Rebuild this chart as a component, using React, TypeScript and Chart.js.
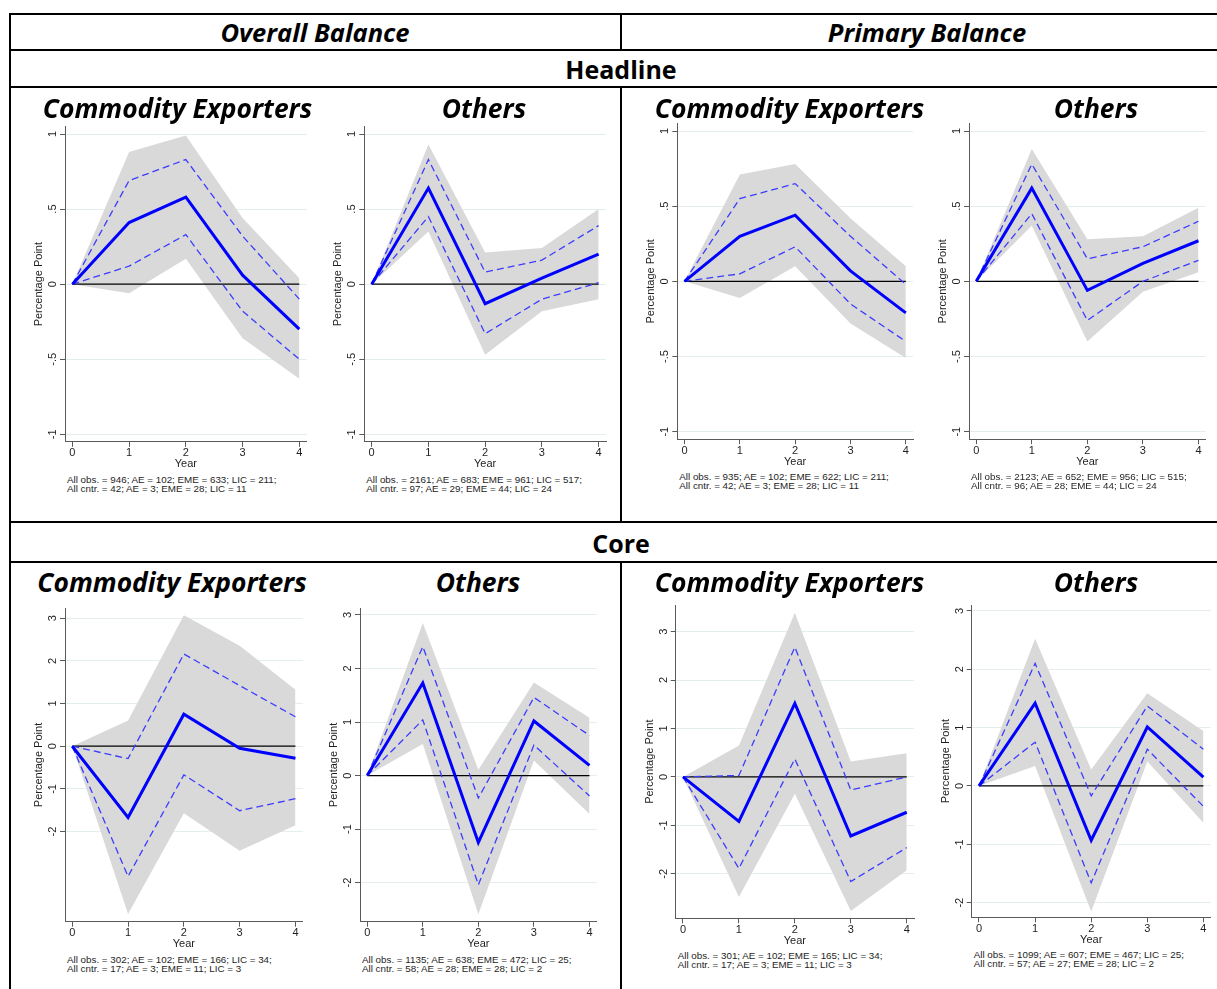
import React, { useEffect, useRef } from "react";
import { Chart, registerables } from "chart.js";

Chart.register(...registerables);

// ---- horizon and axis ticks ----
const years = [0, 1, 2, 3, 4];
const yTicksHeadline = [-1, -0.5, 0, 0.5, 1];
const yTicksCore = [-2, -1, 0, 1, 2, 3];

// ---- Headline, overall balance, commodity exporters ----
const hoCxIrf = [0, 0.41, 0.58, 0.06, -0.3];
const hoCxDashHi = [0, 0.69, 0.83, 0.32, -0.1];
const hoCxDashLo = [0, 0.12, 0.33, -0.18, -0.5];
const hoCxBandHi = [0, 0.88, 0.99, 0.44, 0.04];
const hoCxBandLo = [0, -0.06, 0.17, -0.36, -0.63];
const hoCxNotes = ["All obs. = 946; AE = 102; EME = 633; LIC = 211;", "All cntr. = 42; AE = 3; EME = 28; LIC = 11"];

// ---- Headline, overall balance, others ----
const hoOtIrf = [0, 0.64, -0.13, 0.04, 0.2];
const hoOtDashHi = [0, 0.83, 0.08, 0.16, 0.39];
const hoOtDashLo = [0, 0.45, -0.33, -0.1, 0.01];
const hoOtBandHi = [0, 0.93, 0.21, 0.24, 0.5];
const hoOtBandLo = [0, 0.35, -0.47, -0.18, -0.1];
const hoOtNotes = ["All obs. = 2161; AE = 683; EME = 961; LIC = 517;", "All cntr. = 97; AE = 29; EME = 44; LIC = 24"];

// ---- Headline, primary balance, commodity exporters ----
const hpCxIrf = [0, 0.3, 0.44, 0.07, -0.21];
const hpCxDashHi = [0, 0.55, 0.65, 0.3, -0.02];
const hpCxDashLo = [0, 0.05, 0.23, -0.15, -0.4];
const hpCxBandHi = [0, 0.71, 0.78, 0.42, 0.1];
const hpCxBandLo = [0, -0.11, 0.1, -0.28, -0.51];
const hpCxNotes = ["All obs. = 935; AE = 102; EME = 622; LIC = 211;", "All cntr. = 42; AE = 3; EME = 28; LIC = 11"];

// ---- Headline, primary balance, others ----
const hpOtIrf = [0, 0.62, -0.06, 0.12, 0.27];
const hpOtDashHi = [0, 0.78, 0.15, 0.23, 0.4];
const hpOtDashLo = [0, 0.45, -0.26, 0.0, 0.14];
const hpOtBandHi = [0, 0.88, 0.28, 0.3, 0.49];
const hpOtBandLo = [0, 0.37, -0.4, -0.07, 0.06];
const hpOtNotes = ["All obs. = 2123; AE = 652; EME = 956; LIC = 515;", "All cntr. = 96; AE = 28; EME = 44; LIC = 24"];

// ---- Core, overall balance, commodity exporters ----
const coCxIrf = [0, -1.67, 0.75, -0.05, -0.28];
const coCxDashHi = [0, -0.29, 2.16, 1.42, 0.69];
const coCxDashLo = [0, -3.05, -0.67, -1.51, -1.23];
const coCxBandHi = [0, 0.6, 3.07, 2.35, 1.32];
const coCxBandLo = [0, -3.93, -1.57, -2.45, -1.85];
const coCxNotes = ["All obs. = 302; AE = 102; EME = 166; LIC = 34;", "All cntr. = 17; AE = 3; EME = 11; LIC = 3"];

// ---- Core, overall balance, others ----
const coOtIrf = [0, 1.73, -1.25, 1.02, 0.19];
const coOtDashHi = [0, 2.41, -0.42, 1.46, 0.75];
const coOtDashLo = [0, 1.04, -2.04, 0.57, -0.38];
const coOtBandHi = [0, 2.85, 0.11, 1.74, 1.08];
const coOtBandLo = [0, 0.59, -2.59, 0.28, -0.72];
const coOtNotes = ["All obs. = 1135; AE = 638; EME = 472; LIC = 25;", "All cntr. = 58; AE = 28; EME = 28; LIC = 2"];

// ---- Core, primary balance, commodity exporters ----
const cpCxIrf = [0, -0.92, 1.52, -1.22, -0.73];
const cpCxDashHi = [0, 0.03, 2.68, -0.27, 0.0];
const cpCxDashLo = [0, -1.89, 0.37, -2.16, -1.46];
const cpCxBandHi = [0, 0.65, 3.39, 0.32, 0.49];
const cpCxBandLo = [0, -2.48, -0.35, -2.77, -1.93];
const cpCxNotes = ["All obs. = 301; AE = 102; EME = 165; LIC = 34;", "All cntr. = 17; AE = 3; EME = 11; LIC = 3"];

// ---- Core, primary balance, others ----
const cpOtIrf = [0, 1.42, -0.93, 1.01, 0.15];
const cpOtDashHi = [0, 2.1, -0.17, 1.37, 0.63];
const cpOtDashLo = [0, 0.75, -1.66, 0.63, -0.35];
const cpOtBandHi = [0, 2.52, 0.28, 1.59, 0.94];
const cpOtBandLo = [0, 0.34, -2.15, 0.42, -0.63];
const cpOtNotes = ["All obs. = 1099; AE = 607; EME = 467; LIC = 25;", "All cntr. = 57; AE = 27; EME = 28; LIC = 2"];

const zeroLine = years.map(() => 0);

const FONT_AX = '"Liberation Sans", Arial, sans-serif';
const FONT_TI = '"Open Sans", "Noto Sans", sans-serif';

type Rect = { left: number; top: number; right: number; bottom: number };
type PanelSpec = {
  irf: number[];
  dashHi: number[];
  dashLo: number[];
  bandHi: number[];
  bandLo: number[];
  notes: string[];
  yMin: number;
  yMax: number;
  yTicks: number[];
  plot: Rect;
  title: string;
  titleX: number;
  titleY: number;
};

const panels: PanelSpec[] = [
  { irf: hoCxIrf, dashHi: hoCxDashHi, dashLo: hoCxDashLo, bandHi: hoCxBandHi, bandLo: hoCxBandLo, notes: hoCxNotes,
    yMin: -1.05, yMax: 1.05, yTicks: yTicksHeadline, plot: { left: 65, top: 126.5, right: 306.7, bottom: 441.8 },
    title: "Commodity Exporters", titleX: 177.5, titleY: 108 },
  { irf: hoOtIrf, dashHi: hoOtDashHi, dashLo: hoOtDashLo, bandHi: hoOtBandHi, bandLo: hoOtBandLo, notes: hoOtNotes,
    yMin: -1.05, yMax: 1.05, yTicks: yTicksHeadline, plot: { left: 364.3, top: 126.5, right: 606, bottom: 441.8 },
    title: "Others", titleX: 484, titleY: 108 },
  { irf: hpCxIrf, dashHi: hpCxDashHi, dashLo: hpCxDashLo, bandHi: hpCxBandHi, bandLo: hpCxBandLo, notes: hpCxNotes,
    yMin: -1.05, yMax: 1.05, yTicks: yTicksHeadline, plot: { left: 677.3, top: 123.5, right: 913, bottom: 439.2 },
    title: "Commodity Exporters", titleX: 789.5, titleY: 108 },
  { irf: hpOtIrf, dashHi: hpOtDashHi, dashLo: hpOtDashLo, bandHi: hpOtBandHi, bandLo: hpOtBandLo, notes: hpOtNotes,
    yMin: -1.05, yMax: 1.05, yTicks: yTicksHeadline, plot: { left: 969, top: 123.5, right: 1205.7, bottom: 439.2 },
    title: "Others", titleX: 1096, titleY: 108 },
  { irf: coCxIrf, dashHi: coCxDashHi, dashLo: coCxDashLo, bandHi: coCxBandHi, bandLo: coCxBandLo, notes: coCxNotes,
    yMin: -4.11, yMax: 3.23, yTicks: yTicksCore, plot: { left: 65, top: 608.3, right: 302.7, bottom: 921.7 },
    title: "Commodity Exporters", titleX: 172, titleY: 582 },
  { irf: coOtIrf, dashHi: coOtDashHi, dashLo: coOtDashLo, bandHi: coOtBandHi, bandLo: coOtBandLo, notes: coOtNotes,
    yMin: -2.73, yMax: 3.125, yTicks: yTicksCore, plot: { left: 360, top: 608.3, right: 596.7, bottom: 921.7 },
    title: "Others", titleX: 478, titleY: 582 },
  { irf: cpCxIrf, dashHi: cpCxDashHi, dashLo: cpCxDashLo, bandHi: cpCxBandHi, bandLo: cpCxBandLo, notes: cpCxNotes,
    yMin: -2.92, yMax: 3.55, yTicks: yTicksCore, plot: { left: 675.7, top: 605, right: 914, bottom: 918.3 },
    title: "Commodity Exporters", titleX: 789.5, titleY: 582 },
  { irf: cpOtIrf, dashHi: cpOtDashHi, dashLo: cpOtDashLo, bandHi: cpOtBandHi, bandLo: cpOtBandLo, notes: cpOtNotes,
    yMin: -2.25, yMax: 3.1, yTicks: yTicksCore, plot: { left: 971.7, top: 605, right: 1210.7, bottom: 917.3 },
    title: "Others", titleX: 1096, titleY: 582 },
];

// Stata-style tick label: drop the leading zero (".5", "-.5")
const fmtTick = (v: number) => String(v).replace(/^(-?)0\./, "$1.");

const toXY = (vals: number[]) => years.map((x, i) => ({ x, y: vals[i] }));

const AXIS_GREY = "#5a5a5a";
const GRID_COLOR = "#e4eeef";
const TEXT_COLOR = "#1e1e1e";

function IrfPanel({ p }: { p: PanelSpec }) {
  const ref = useRef<HTMLCanvasElement | null>(null);
  const cLeft = Math.floor(p.plot.left) - 46;
  const cTop = Math.floor(p.plot.top) - 6;
  const cW = Math.ceil(p.plot.right) + 4 - cLeft;
  const cH = Math.ceil(p.plot.bottom) + 30 - cTop;

  useEffect(() => {
    if (!ref.current) return;
    const yAxisW = p.plot.left - cLeft;
    const xAxisH = cTop + cH - p.plot.bottom;
    const padTop = p.plot.top - cTop;
    const padRight = cLeft + cW - p.plot.right;
    const titleLH = 11 * 1.2;
    const yTitlePad = p.plot.left - 26 - cLeft - titleLH / 2;
    const yearPad = cTop + cH - (p.plot.bottom + 22.5) - titleLH / 2;

    // rotated y tick labels, reading bottom to top like the axis title
    const rotatedYLabels = {
      id: "rotatedYLabels",
      afterDraw(chart: any) {
        const s = chart.scales.y;
        const ctx = chart.ctx as CanvasRenderingContext2D;
        ctx.save();
        ctx.font = `11px ${FONT_AX}`;
        ctx.fillStyle = TEXT_COLOR;
        ctx.textAlign = "center";
        ctx.textBaseline = "alphabetic";
        for (const t of s.ticks) {
          const py = s.getPixelForValue(t.value);
          ctx.save();
          ctx.translate(chart.chartArea.left - 9, py);
          ctx.rotate(-Math.PI / 2);
          ctx.fillText(fmtTick(t.value), 0, 0);
          ctx.restore();
        }
        ctx.restore();
      },
    };

    const line = (vals: number[], color: string, width: number, dash: number[] = []) => ({
      data: toXY(vals),
      borderColor: color,
      borderWidth: width,
      borderDash: dash,
      pointRadius: 0,
      pointHoverRadius: 0,
      tension: 0,
      fill: false as any,
    });

    const chart = new Chart(ref.current, {
      type: "line",
      data: {
        datasets: [
          { label: "IRF", ...line(p.irf, "#0000ff", 3) },
          { label: "upper", ...line(p.dashHi, "#3c3cff", 1.3, [7, 4]) },
          { label: "lower", ...line(p.dashLo, "#3c3cff", 1.3, [7, 4]) },
          { label: "zero", ...line(zeroLine, "#000000", 1.2) },
          { label: "band hi", ...line(p.bandHi, "rgba(0,0,0,0)", 1) },
          { label: "band lo", ...line(p.bandLo, "rgba(0,0,0,0)", 1), fill: "-1", backgroundColor: "#d9d9d9" },
        ],
      },
      options: {
        animation: false,
        responsive: false,
        maintainAspectRatio: false,
        devicePixelRatio: 1,
        events: [],
        layout: { padding: { left: 0, top: padTop, right: padRight, bottom: 0 } },
        plugins: { legend: { display: false }, tooltip: { enabled: false } },
        scales: {
          x: {
            type: "linear",
            min: -0.13,
            max: 4.13,
            afterBuildTicks: (s: any) => {
              s.ticks = years.map((v) => ({ value: v }));
            },
            afterFit: (s: any) => {
              s.height = xAxisH;
            },
            ticks: {
              font: { family: FONT_AX, size: 11, lineHeight: 1 },
              color: TEXT_COLOR,
              padding: 1,
              maxRotation: 0,
              autoSkip: false,
              callback: (v: any) => String(v),
            },
            grid: { drawOnChartArea: false, drawTicks: true, tickLength: 5, tickColor: AXIS_GREY, tickWidth: 1 },
            border: { display: true, color: AXIS_GREY, width: 1 },
            title: {
              display: true,
              text: "Year",
              font: { family: FONT_AX, size: 11, lineHeight: 1.2 },
              color: TEXT_COLOR,
              padding: { top: 0, bottom: yearPad },
            },
          },
          y: {
            type: "linear",
            min: p.yMin,
            max: p.yMax,
            afterBuildTicks: (s: any) => {
              s.ticks = p.yTicks.map((v) => ({ value: v }));
            },
            afterFit: (s: any) => {
              s.width = yAxisW;
            },
            ticks: { display: false },
            grid: { color: GRID_COLOR, lineWidth: 1, drawTicks: true, tickLength: 5, tickColor: AXIS_GREY, tickWidth: 1 },
            border: { display: true, color: AXIS_GREY, width: 1 },
            title: {
              display: true,
              text: "Percentage Point",
              font: { family: FONT_AX, size: 11, lineHeight: 1.2 },
              color: TEXT_COLOR,
              padding: { top: yTitlePad, bottom: 0 },
            },
          },
        },
      },
      plugins: [rotatedYLabels],
    } as any);
    return () => chart.destroy();
  }, [p]);

  return (
    <>
      <canvas
        ref={ref}
        width={cW}
        height={cH}
        style={{ position: "absolute", left: cLeft, top: cTop, width: cW, height: cH }}
      />
      <div
        style={{
          position: "absolute",
          left: p.plot.left + 2,
          top: p.plot.bottom + 33,
          fontFamily: FONT_AX,
          fontSize: 9.8,
          lineHeight: "9px",
          color: TEXT_COLOR,
          whiteSpace: "nowrap",
        }}
      >
        {p.notes.map((n, i) => (
          <div key={i}>{n}</div>
        ))}
      </div>
      <Label x={p.titleX} y={p.titleY} size={26.4} italic>
        {p.title}
      </Label>
    </>
  );
}

function Label({ x, y, size, italic, children }: { x: number; y: number; size: number; italic?: boolean; children: React.ReactNode }) {
  return (
    <div
      style={{
        position: "absolute",
        left: x,
        top: y,
        transform: "translate(-50%, -50%)",
        fontFamily: FONT_TI,
        fontWeight: 700,
        fontStyle: italic ? "italic" : "normal",
        fontSize: size,
        lineHeight: 1,
        whiteSpace: "nowrap",
        color: "#000",
      }}
    >
      {children}
    </div>
  );
}

function Rule({ x, y, w, h }: { x: number; y: number; w: number; h: number }) {
  return <div style={{ position: "absolute", left: x, top: y, width: w, height: h, background: "#000" }} />;
}

export default function App() {
  return (
    <div
      style={{
        position: "absolute",
        left: 0,
        top: 0,
        width: 1217,
        height: 989,
        overflow: "hidden",
        background: "#fff",
      }}
    >
      {/* table frame */}
      <Rule x={9} y={13} w={1240} h={2} />
      <Rule x={9} y={49} w={1240} h={2} />
      <Rule x={9} y={86} w={1240} h={2} />
      <Rule x={9} y={521} w={1240} h={2} />
      <Rule x={9} y={561} w={1240} h={2} />
      <Rule x={9} y={13} w={2} h={990} />
      <Rule x={620} y={13} w={2} h={38} />
      <Rule x={620} y={86} w={2} h={437} />
      <Rule x={620} y={561} w={2} h={440} />

      <Label x={315} y={33} size={25.5} italic>
        Overall Balance
      </Label>
      <Label x={927} y={33} size={25.5} italic>
        Primary Balance
      </Label>
      <Label x={621} y={69} size={25}>
        Headline
      </Label>
      <Label x={621} y={543} size={25}>
        Core
      </Label>

      {panels.map((p, i) => (
        <IrfPanel key={i} p={p} />
      ))}
    </div>
  );
}
